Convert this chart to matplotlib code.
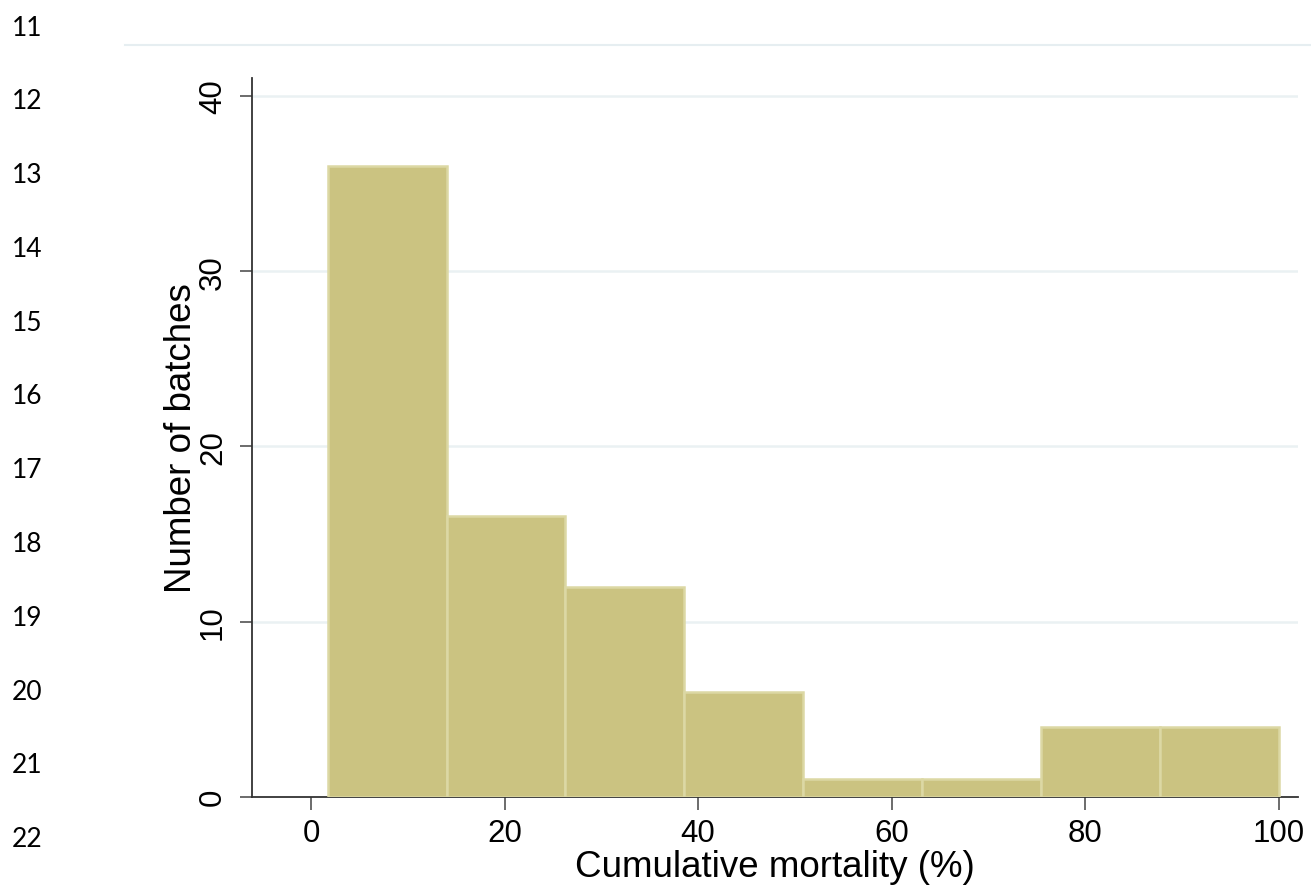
import numpy as np
import matplotlib
matplotlib.use("Agg")
import matplotlib.pyplot as plt
from matplotlib.lines import Line2D

# Data
bin_min = 1.72
bin_max = 100.0
counts = [36, 16, 12, 6, 1, 1, 4, 4]
x_ticks = [0, 20, 40, 60, 80, 100]
y_ticks = [0, 10, 20, 30, 40]
line_numbers = ["11", "12", "13", "14", "15", "16", "17", "18", "19", "20", "21", "22"]
x_label = "Cumulative mortality (%)"
y_label = "Number of batches"

edges = np.linspace(bin_min, bin_max, len(counts) + 1)

W, H = 1311, 887
fig = plt.figure(figsize=(W / 100, H / 100), dpi=100)
ax = fig.add_axes([251.7 / W, 1 - 797.7 / H, (1298 - 251.7) / W, (797.7 - 79) / H])

bar_color = "#cbc381"
edge_color = "#dcd8a4"
ax.bar(edges[:-1], counts, width=np.diff(edges), align="edge",
       color=bar_color, edgecolor=edge_color, linewidth=1.8, zorder=3)

ax.set_xlim(-6.13, 102.0)
ax.set_ylim(0, 41.03)
ax.set_xticks(x_ticks)
ax.set_yticks(y_ticks)
ax.set_yticklabels([str(v) for v in y_ticks], rotation=90, va="center")

for v in y_ticks[1:]:
    ax.axhline(v, color="#eaf1f3", linewidth=1.8, zorder=1)

for s in ["top", "right"]:
    ax.spines[s].set_visible(False)
for s in ["left", "bottom"]:
    ax.spines[s].set_color("#333333")
    ax.spines[s].set_linewidth(1.3)

font = "Liberation Sans"
ax.tick_params(axis="both", length=9, width=1.1, color="#444444", labelsize=22.5)
ax.tick_params(axis="x", pad=6)
ax.tick_params(axis="y", pad=8)
for lbl in ax.get_xticklabels() + ax.get_yticklabels():
    lbl.set_fontfamily(font)

ax.set_xlabel(x_label, fontsize=26.5, family=font, labelpad=1)
ax.set_ylabel(y_label, fontsize=26.5, family=font, labelpad=-1)

# Manuscript line numbers
y0, dy = 28, 73.8
for i, t in enumerate(line_numbers):
    fig.text(12 / W, 1 - (y0 + i * dy) / H, t, fontsize=19, family="Lato",
             va="center", ha="left", color="black")

# faint top rule
fig.add_artist(Line2D([125 / W, 1.0], [1 - 46 / H, 1 - 46 / H],
                      color="#e6eef1", linewidth=1.5))

fig.savefig("out.png", dpi=100)
